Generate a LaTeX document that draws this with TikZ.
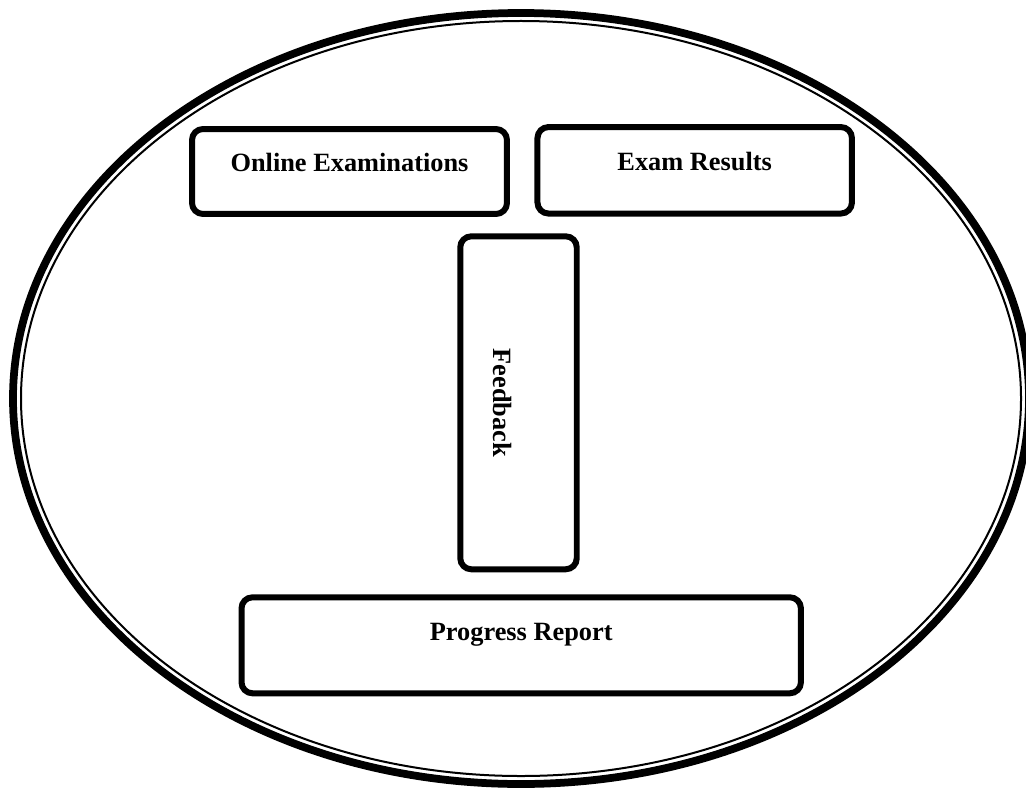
\documentclass[tikz,border=0pt]{standalone}
\usepackage{fontspec}
\setmainfont{Liberation Serif}

\begin{document}
\begin{tikzpicture}[
	x=0.02cm, y=-0.02cm,
	mimodulo/.style ={draw, line width=0.12cm, rounded corners=0.22cm,
		font=\bfseries\fontsize{15}{18}\selectfont, text height=10pt, text depth=10pt},
	mielipse/.style ={line width=0.155cm},
	milinea/.style ={line width=0.04cm}]

	\def\cx{521}
	\def\cy{398.5}

	\useasboundingbox (0,0) rectangle (1026,787);

	% double border: thick outside, thin inside
	\draw [mielipse] (\cx,\cy) ellipse [x radius=508, y radius=385.5];
	\draw [milinea] (\cx,\cy) ellipse [x radius=500, y radius=377.5];

	\node [mimodulo, minimum width=6.3cm, minimum height=1.7cm] (online) at (349.5,171.5) {Online Examinations};
	\node [mimodulo, minimum width=6.29cm, minimum height=1.73cm] (results) at (694.7,170.3) {Exam Results};
	\node [mimodulo, rotate=-90, minimum width=6.66cm, minimum height=2.33cm,
		text height=29pt, text depth=0pt] (feedback) at (518.5,402.8) {Feedback};
	\node [mimodulo, minimum width=11.19cm, minimum height=1.92cm,
		text depth=16pt] (report) at (521.2,645.3) {Progress Report};

\end{tikzpicture}
\end{document}
